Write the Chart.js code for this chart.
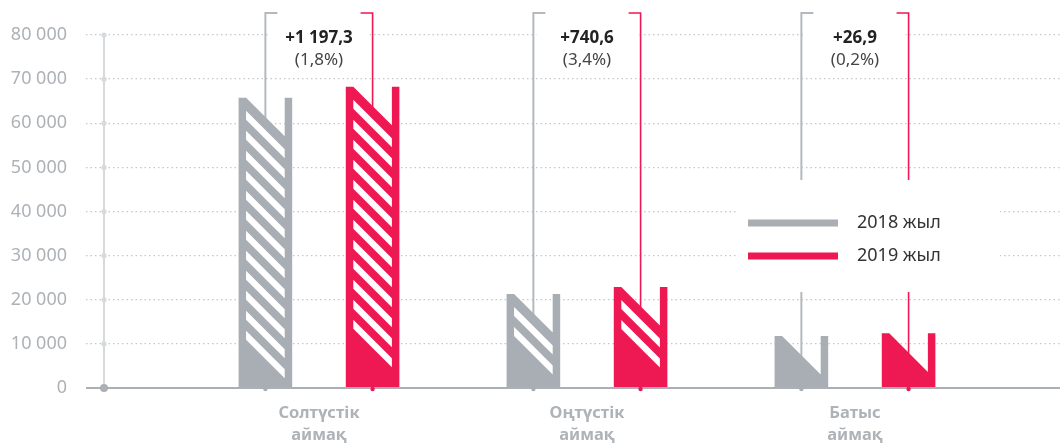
<!DOCTYPE html>
<html>
<head>
<meta charset="utf-8">
<script src="https://cdn.jsdelivr.net/npm/chart.js@4.4.1/dist/chart.umd.min.js"></script>
<style>
  html, body { margin: 0; padding: 0; background: #fff; }
  #wrap { width: 1060px; height: 445px; }
</style>
</head>
<body>
<div id="wrap"><canvas id="chart"></canvas></div>
<script>
"use strict";

// аймақтар мен жылдар
const regions = [["Солтүстік", "аймақ"], ["Оңтүстік", "аймақ"], ["Батыс", "аймақ"]];
const years = ["2018 жыл", "2019 жыл"];
const values2018 = [65800, 21300, 11800];
const values2019 = [68300, 22900, 12400];
const diffs = ["+1 197,3", "+740,6", "+26,9"];
const diffPct = ["(1,8%)", "(3,4%)", "(0,2%)"];
const yMax = 80000;
const yStep = 10000;

const GRAY = "#a8aeb3";
const RED = "#ee1852";
const FONT = "'Noto Sans', sans-serif";

function fmt(v) {
  return String(v).replace(/\B(?=(\d{3})+(?!\d))/g, " ");
}

function line(ctx, x1, y1, x2, y2) {
  ctx.beginPath();
  ctx.moveTo(x1, y1);
  ctx.lineTo(x2, y2);
  ctx.stroke();
}

function dot(ctx, x, y, r, color) {
  ctx.fillStyle = color;
  ctx.beginPath();
  ctx.arc(x, y, r, 0, Math.PI * 2);
  ctx.fill();
}

// "N" пішінді баған, ішінде ақ диагональ жолақтар
function drawNBar(ctx, cx, top, base, w, color) {
  const x0 = cx - w / 2, x1 = cx + w / 2;
  const s = 7.5;
  const xa = x0 + s, xb = x1 - s;
  const d = Math.min(xb - xa, base - top);
  ctx.fillStyle = color;
  ctx.beginPath();
  ctx.moveTo(x0, base);
  ctx.lineTo(x0, top);
  ctx.lineTo(xa, top);
  ctx.lineTo(xa + d, top + d);
  ctx.lineTo(xb, top);
  ctx.lineTo(x1, top);
  ctx.lineTo(x1, base);
  ctx.closePath();
  ctx.fill();

  ctx.fillStyle = "#fff";
  for (let yL = top + 13; yL + d + 9 <= base - 6; yL += 20) {
    ctx.beginPath();
    ctx.moveTo(xa, yL);
    ctx.lineTo(xb, yL + d);
    ctx.lineTo(xb, yL + d + 9);
    ctx.lineTo(xa, yL + 9);
    ctx.closePath();
    ctx.fill();
  }
}

const decoPlugin = {
  id: "deco",
  beforeDatasetsDraw(chart) {
    const ctx = chart.ctx;
    const area = chart.chartArea;
    const ys = chart.scales.y;
    const m0 = chart.getDatasetMeta(0);
    const m1 = chart.getDatasetMeta(1);
    ctx.save();

    // y осі
    ctx.strokeStyle = "#d7dadd";
    ctx.lineWidth = 2;
    line(ctx, area.left, ys.getPixelForValue(yMax), area.left, ys.getPixelForValue(0));
    ys.ticks.forEach(t => {
      if (t.value > 0) dot(ctx, area.left, ys.getPixelForValue(t.value), 2.6, "#d7dadd");
    });

    // айырма жазулары астындағы ақ фон және жақшалар
    const bTop = area.top - 22;
    regions.forEach((r, i) => {
      const g = m0.data[i], rd = m1.data[i];
      ctx.fillStyle = "#fff";
      ctx.fillRect(g.x + 3, area.top - 13, rd.x - g.x - 6, 48);

      ctx.lineWidth = 2;
      ctx.strokeStyle = "#b4b9bd";
      ctx.beginPath();
      ctx.moveTo(g.x + 12, bTop);
      ctx.lineTo(g.x, bTop);
      ctx.lineTo(g.x, g.base);
      ctx.stroke();

      ctx.lineWidth = 1.6;
      ctx.strokeStyle = RED;
      ctx.beginPath();
      ctx.moveTo(rd.x - 12, bTop);
      ctx.lineTo(rd.x, bTop);
      ctx.lineTo(rd.x, rd.base);
      ctx.stroke();
    });

    // аңыз астындағы ақ фон
    ctx.fillStyle = "#fff";
    ctx.fillRect(738, 180, 262, 112);
    ctx.restore();
  },
  beforeDatasetDraw(chart, args) {
    const ctx = chart.ctx;
    const color = chart.data.datasets[args.index].backgroundColor;
    ctx.save();
    args.meta.data.forEach(el => {
      const p = el.getProps(["x", "y", "base", "width"], true);
      drawNBar(ctx, p.x, p.y, p.base, p.width, color);
    });
    ctx.restore();
    return false;
  },
  afterDatasetsDraw(chart) {
    const ctx = chart.ctx;
    const area = chart.chartArea;
    const ys = chart.scales.y;
    const m0 = chart.getDatasetMeta(0);
    const m1 = chart.getDatasetMeta(1);
    const y0 = ys.getPixelForValue(0);
    ctx.save();

    // x осі
    ctx.strokeStyle = "#aab0b5";
    ctx.lineWidth = 2;
    line(ctx, area.left - 18, y0, area.right, y0);
    dot(ctx, area.left, y0, 4, "#aab0b5");
    m0.data.forEach(el => dot(ctx, el.x, y0 + 1, 2.2, GRAY));
    m1.data.forEach(el => dot(ctx, el.x, y0 + 1, 2.2, RED));

    // айырма жазулары
    ctx.textAlign = "center";
    ctx.textBaseline = "middle";
    regions.forEach((r, i) => {
      const cx = (m0.data[i].x + m1.data[i].x) / 2;
      ctx.fillStyle = "#222";
      ctx.font = "bold 17px " + FONT;
      ctx.fillText(diffs[i], cx, area.top + 3);
      ctx.fillStyle = "#444";
      ctx.font = "17px " + FONT;
      ctx.fillText(diffPct[i], cx, area.top + 25);
    });

    // аңыз
    ctx.textAlign = "left";
    ctx.font = "18px " + FONT;
    chart.data.datasets.forEach((ds, i) => {
      const ly = 223 + i * 33;
      ctx.fillStyle = ds.backgroundColor;
      ctx.fillRect(748, ly - 3.5, 90, 7);
      ctx.fillStyle = "#333";
      ctx.fillText(ds.label, 857, ly);
    });
    ctx.restore();
  }
};

const ctx = document.getElementById("chart").getContext("2d");
const chart = new Chart(ctx, {
  type: "bar",
  data: {
    datasets: [
      {
        label: years[0],
        backgroundColor: GRAY,
        data: values2018.map((v, i) => ({ x: i + 1, y: v }))
      },
      {
        label: years[1],
        backgroundColor: RED,
        data: values2019.map((v, i) => ({ x: i + 1, y: v }))
      }
    ]
  },
  options: {
    responsive: true,
    maintainAspectRatio: false,
    animation: false,
    categoryPercentage: 0.8,
    barPercentage: 0.5,
    layout: { padding: { top: 35, left: 0, right: 0, bottom: 0 } },
    plugins: {
      legend: { display: false },
      tooltip: { enabled: false }
    },
    scales: {
      x: {
        type: "linear",
        offset: false,
        min: 0.1978,
        max: 3.765,
        grid: { display: false, drawTicks: false, offset: false },
        border: { display: false },
        afterBuildTicks: scale => {
          scale.ticks = regions.map((r, i) => ({ value: i + 1 }));
        },
        afterFit: scale => { scale.height = 57; },
        ticks: {
          autoSkip: false,
          maxRotation: 0,
          padding: 14,
          color: "#aeb3b8",
          font: { family: FONT, size: 16.5, weight: "bold", lineHeight: 1.34 },
          callback: v => regions[v - 1] || ""
        }
      },
      y: {
        min: 0,
        max: yMax,
        afterFit: scale => { scale.width = 104; },
        grid: {
          color: "#c4c8cb",
          lineWidth: 1.3,
          tickLength: 18,
          tickBorderDash: [1.5, 3]
        },
        border: { display: false, dash: [1.5, 3] },
        ticks: {
          stepSize: yStep,
          padding: 19,
          color: "#adb2b7",
          font: { family: FONT, size: 18 },
          callback: v => fmt(v)
        }
      }
    }
  },
  plugins: [decoPlugin]
});
</script>
</body>
</html>
